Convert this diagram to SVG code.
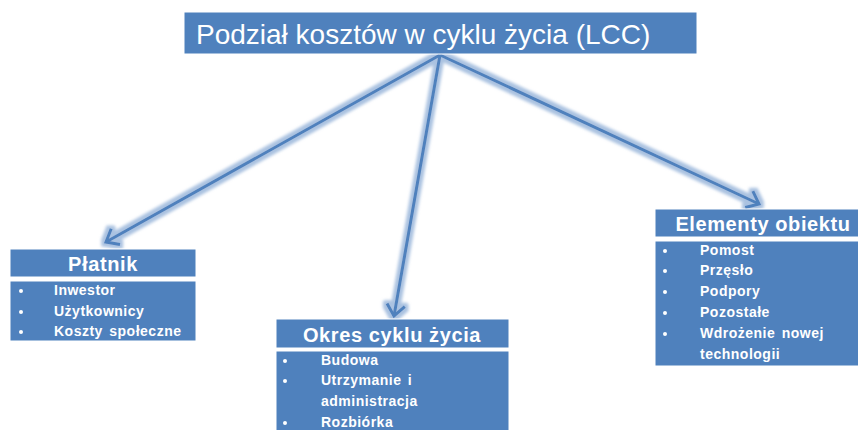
<svg xmlns="http://www.w3.org/2000/svg" width="858" height="430" viewBox="0 0 858 430">
<defs>
<style>
.box{fill:#4F81BD;stroke:#FFFFFF;stroke-width:1}
.title{font-family:"Liberation Sans",Arial,sans-serif;font-size:28px;fill:#FFFFFF}
.hdr{font-family:"Liberation Sans",Arial,sans-serif;font-size:20px;font-weight:bold;fill:#FFFFFF;letter-spacing:0.6px;text-anchor:middle}
.item{font-family:"Liberation Sans",Arial,sans-serif;font-size:14px;font-weight:bold;fill:#FFFFFF;letter-spacing:0.5px;word-spacing:2px}
.dot{fill:#FFFFFF}
.conn{fill:none;stroke:#4F81BD;stroke-width:3;marker-end:url(#arr)}
</style>
<marker id="arr" markerUnits="userSpaceOnUse" viewBox="-14 -12 18 24" markerWidth="18" markerHeight="24" refX="0" refY="0" orient="auto" overflow="visible">
<path d="M -11 -9 L 0 0 L -11 9" fill="none" stroke="#4F81BD" stroke-width="3" stroke-linejoin="miter"/>
</marker>
<filter id="glow" x="-10%" y="-10%" width="120%" height="120%">
<feMorphology in="SourceAlpha" operator="dilate" radius="2.5" result="d"/>
<feGaussianBlur in="d" stdDeviation="1.5" result="b"/>
<feFlood flood-color="#9BB7DB" flood-opacity="0.85"/>
<feComposite in2="b" operator="in" result="g"/>
<feMerge><feMergeNode in="g"/><feMergeNode in="SourceGraphic"/></feMerge>
</filter>
</defs>
<rect width="858" height="430" fill="#FFFFFF"/>
<g id="connectors" filter="url(#glow)">
<path class="conn" d="M 440 55 L 106 242"/>
<path class="conn" d="M 440 55 L 394 316"/>
<path class="conn" d="M 440 55 L 759 204"/>
</g>
<g id="root">
<rect class="box" x="184" y="12" width="513" height="42"/>
<text class="title" x="196" y="44">Podział kosztów w cyklu życia (LCC)</text>
</g>
<g id="platnik">
<rect class="box" x="10" y="249" width="186" height="28"/>
<text class="hdr" x="103" y="271">Płatnik</text>
<rect class="box" x="10" y="281" width="186" height="60"/>
<circle class="dot" cx="21" cy="291" r="2"/>
<circle class="dot" cx="21" cy="312" r="2"/>
<circle class="dot" cx="21" cy="332" r="2"/>
<text class="item" x="54" y="295">Inwestor</text>
<text class="item" x="54" y="316">Użytkownicy</text>
<text class="item" x="54" y="336">Koszty społeczne</text>
</g>
<g id="okres">
<rect class="box" x="276" y="319" width="233" height="29"/>
<text class="hdr" x="392" y="342">Okres cyklu życia</text>
<rect class="box" x="276" y="351" width="233" height="85"/>
<circle class="dot" cx="285" cy="361" r="2"/>
<circle class="dot" cx="285" cy="381" r="2"/>
<circle class="dot" cx="285" cy="423" r="2"/>
<text class="item" x="321" y="365">Budowa</text>
<text class="item" x="321" y="385">Utrzymanie  i</text>
<text class="item" x="321" y="406">administracja</text>
<text class="item" x="321" y="427">Rozbiórka</text>
</g>
<g id="elementy">
<rect class="box" x="655" y="209" width="208" height="28"/>
<text class="hdr" x="763" y="231">Elementy obiektu</text>
<rect class="box" x="655" y="241" width="208" height="125"/>
<circle class="dot" cx="665" cy="251" r="2"/>
<circle class="dot" cx="665" cy="271" r="2"/>
<circle class="dot" cx="665" cy="292" r="2"/>
<circle class="dot" cx="665" cy="313" r="2"/>
<circle class="dot" cx="665" cy="334" r="2"/>
<text class="item" x="700" y="255">Pomost</text>
<text class="item" x="700" y="275">Przęsło</text>
<text class="item" x="700" y="296">Podpory</text>
<text class="item" x="700" y="317">Pozostałe</text>
<text class="item" x="700" y="338">Wdrożenie  nowej</text>
<text class="item" x="700" y="359">technologii</text>
</g>
</svg>
